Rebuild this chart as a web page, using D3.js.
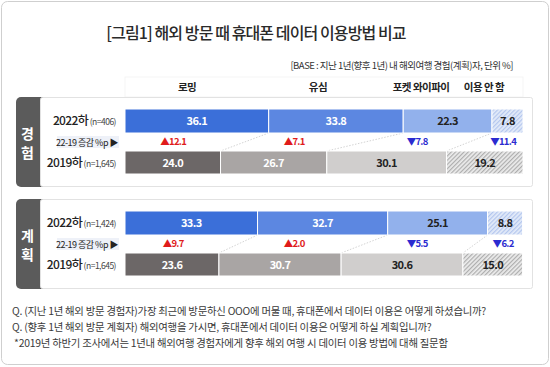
<!DOCTYPE html>
<html><head><meta charset="utf-8">
<script src="https://cdn.jsdelivr.net/npm/d3@7"></script>
<style>
html,body{margin:0;padding:0;background:#fff;}
svg{display:block;font-family:"Noto Sans CJK KR","Noto Sans",sans-serif;}
</style></head>
<body><svg id="c" width="550" height="367"></svg>
<script>
// ---- data ----
const categories = ["로밍", "유심", "포켓 와이파이", "이용 안 함"];
const groups = ["경험", "계획"];
const exp2022 = [36.1, 33.8, 22.3, 7.8];
const exp2019 = [24.0, 26.7, 30.1, 19.2];
const expDiff = [12.1, 7.1, -7.8, -11.4];
const plan2022 = [33.3, 32.7, 25.1, 8.8];
const plan2019 = [23.6, 30.7, 30.6, 15.0];
const planDiff = [9.7, 2.0, -5.5, -6.2];
const n2022 = ["(n=406)", "(n=1,424)"];
const n2019 = ["(n=1,645)", "(n=1,645)"];
const headerPos = [15.6, 48.5, 74.4, 90.2];   // header label anchors (percent axis)
const diffPos = [12.1, 42.5, 73.4, 95.0];     // diff label anchors (percent axis)
const title = "[그림1] 해외 방문 때 휴대폰 데이터 이용방법 비교";
const baseNote = "[BASE : 지난 1년(향후 1년) 내 해외여행 경험(계획)자, 단위 %]";
const notes = [
  "Q. (지난 1년 해외 방문 경험자)가장 최근에 방문하신 OOO에 머물 때, 휴대폰에서 데이터 이용은 어떻게 하셨습니까?",
  "Q. (향후 1년 해외 방문 계획자) 해외여행을 가시면, 휴대폰에서 데이터 이용은 어떻게 하실 계획입니까?",
  " *2019년 하반기 조사에서는 1년내 해외여행 경험자에게 향후 해외 여행 시 데이터 이용 방법에 대해 질문함"
];

const svg = d3.select("#c");
const defs = svg.append("defs");
function hatch(id, bg, line) {
  const p = defs.append("pattern").attr("id", id).attr("patternUnits", "userSpaceOnUse")
    .attr("width", 3).attr("height", 3).attr("patternTransform", "rotate(45)");
  p.append("rect").attr("width", 3).attr("height", 3).attr("fill", bg);
  p.append("rect").attr("width", 1.2).attr("height", 3).attr("fill", line);
}
hatch("hBlue", "#e3ebf9", "#b3c6ee");
hatch("hGray", "#ececec", "#adadad");

const col2022 = ["#3b6fd9", "#5c87e1", "#92b1ec", "url(#hBlue)"];
const col2019 = ["#6c6767", "#a9a5a4", "#d0cecd", "url(#hGray)"];
const txt2022 = ["#fff", "#fff", "#222", "#222"];
const txt2019 = ["#fff", "#fff", "#222", "#222"];

// outer frame
svg.append("rect").attr("x", 1.5).attr("y", 1.5).attr("width", 547).attr("height", 363)
  .attr("rx", 6).attr("fill", "#fff").attr("stroke", "#cfcfcf");

svg.append("text").attr("x", 256).attr("y", 39).attr("text-anchor", "middle")
  .attr("font-size", 16).attr("font-weight", 500).attr("letter-spacing", -0.9).attr("fill", "#2a2a2a").text(title);
svg.append("text").attr("x", 513).attr("y", 69).attr("text-anchor", "end")
  .attr("font-size", 9.5).attr("letter-spacing", -0.5).attr("fill", "#333").text(baseNote);

const x = d3.scaleLinear().domain([0, 100]).range([125, 523]);

// header band
svg.append("rect").attr("x", x(0)).attr("y", 77).attr("width", x(100) - x(0)).attr("height", 20)
  .attr("fill", "#fff").attr("stroke", "#f5f5f5");
svg.selectAll("text.hdr").data(categories).join("text").attr("class", "hdr")
  .attr("x", (d, i) => x(headerPos[i])).attr("y", 91).attr("text-anchor", "middle")
  .attr("font-size", 10.5).attr("font-weight", 700).attr("letter-spacing", -0.5).attr("fill", "#222")
  .text(d => d);

const panels = [
  { name: groups[0], top: 97, a: exp2022, b: exp2019, d: expDiff, n1: n2022[0], n2: n2019[0] },
  { name: groups[1], top: 199, a: plan2022, b: plan2019, d: planDiff, n1: n2022[1], n2: n2019[1] }
];

function stack(vals) {
  let c = 0;
  return vals.map(v => { const s = c; c += v; return { v, s, e: c }; });
}

panels.forEach(p => {
  const g = svg.append("g");
  const T = p.top;
  g.append("rect").attr("x", 16).attr("y", T).attr("width", 34).attr("height", 90).attr("rx", 5).attr("fill", "#5b5b5b");
  g.append("rect").attr("x", 40.5).attr("y", T + 0.5).attr("width", 492).attr("height", 89).attr("rx", 2)
    .attr("fill", "#fff").attr("stroke", "#e2e2e2");
  [...p.name].forEach((ch, i) => {
    g.append("text").attr("x", 27.5).attr("y", T + 42 + i * 19).attr("text-anchor", "middle")
      .attr("font-size", 14).attr("font-weight", 700).attr("fill", "#fff").text(ch);
  });

  const yA = T + 12, hA = 24, yB = T + 54, hB = 23;
  const sA = stack(p.a), sB = stack(p.b);

  // connectors
  for (let i = 0; i < 3; i++) {
    g.append("line").attr("x1", x(sA[i].e)).attr("y1", yA + hA).attr("x2", x(sB[i].e)).attr("y2", yB)
      .attr("stroke", "#c8c8c8").attr("stroke-width", 0.8).attr("stroke-dasharray", "1.5,1.5");
  }

  g.selectAll("rect.a").data(sA).join("rect").attr("class", "a")
    .attr("x", d => x(d.s)).attr("y", yA).attr("width", d => x(d.e) - x(d.s)).attr("height", hA)
    .attr("fill", (d, i) => col2022[i]).attr("stroke", "#fff").attr("stroke-width", 1);
  g.selectAll("rect.b").data(sB).join("rect").attr("class", "b")
    .attr("x", d => x(d.s)).attr("y", yB).attr("width", d => x(d.e) - x(d.s)).attr("height", hB)
    .attr("fill", (d, i) => col2019[i]).attr("stroke", "#fff").attr("stroke-width", 1);

  g.selectAll("text.va").data(sA).join("text").attr("class", "va")
    .attr("x", d => x((d.s + d.e) / 2)).attr("y", yA + hA / 2 + 4).attr("text-anchor", "middle")
    .attr("font-size", 11).attr("font-weight", 700).attr("letter-spacing", -0.6)
    .attr("fill", (d, i) => txt2022[i]).text(d => d.v.toFixed(1));
  g.selectAll("text.vb").data(sB).join("text").attr("class", "vb")
    .attr("x", d => x((d.s + d.e) / 2)).attr("y", yB + hB / 2 + 4).attr("text-anchor", "middle")
    .attr("font-size", 11).attr("font-weight", 700).attr("letter-spacing", -0.6)
    .attr("fill", (d, i) => txt2019[i]).text(d => d.v.toFixed(1));

  g.selectAll("text.df").data(p.d).join("text").attr("class", "df")
    .attr("x", (d, i) => x(diffPos[i])).attr("y", T + 48).attr("text-anchor", "middle")
    .attr("font-size", 9.5).attr("font-weight", 700).attr("letter-spacing", -0.7)
    .attr("fill", d => d >= 0 ? "#e01b1b" : "#2b2bd0")
    .text(d => (d >= 0 ? "▲" : "▼") + Math.abs(d).toFixed(1));

  // row labels
  const t1 = g.append("text").attr("x", 116).attr("y", yA + 16).attr("text-anchor", "end").attr("fill", "#222");
  t1.append("tspan").attr("font-size", 12).attr("font-weight", 500).attr("letter-spacing", -0.6).text("2022하");
  t1.append("tspan").attr("font-size", 8.5).attr("fill", "#444").attr("letter-spacing", -0.5).text(" " + p.n1);
  const t2 = g.append("text").attr("x", 116).attr("y", yB + 16).attr("text-anchor", "end").attr("fill", "#222");
  t2.append("tspan").attr("font-size", 12).attr("font-weight", 500).attr("letter-spacing", -0.6).text("2019하");
  t2.append("tspan").attr("font-size", 8.5).attr("fill", "#444").attr("letter-spacing", -0.5).text(" " + p.n2);
  g.append("rect").attr("x", 57).attr("y", T + 39).attr("width", 62).attr("height", 12).attr("fill", "#eef1f8");
  g.append("text").attr("x", 118).attr("y", T + 49).attr("text-anchor", "end")
    .attr("font-size", 9).attr("letter-spacing", -0.5).attr("fill", "#222").text("22-19 증감 %p ▶");
});

svg.selectAll("text.note").data(notes).join("text").attr("class", "note")
  .attr("x", 12).attr("y", (d, i) => 315 + i * 16)
  .attr("font-size", 10.4).attr("letter-spacing", -0.25).attr("fill", "#3a3a3a").attr("xml:space", "preserve")
  .style("white-space", "pre").text(d => d);
</script></body></html>
